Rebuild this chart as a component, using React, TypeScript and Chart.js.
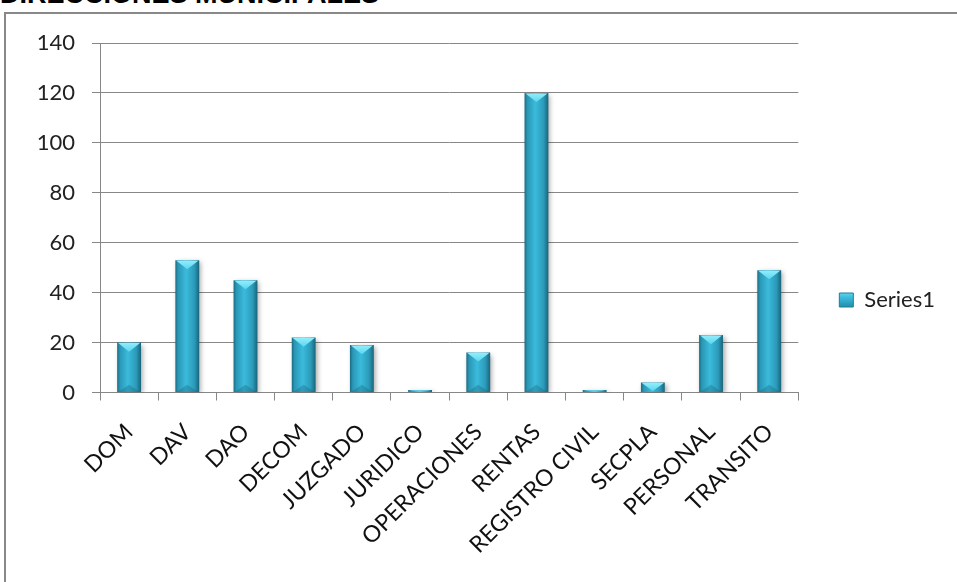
import React, { useEffect, useRef } from "react";
import { Chart, registerables } from "chart.js";

Chart.register(...registerables);

const title = "DIRECCIONES MUNICIPALES";
const seriesName = "Series1";
const categories = [
  "DOM",
  "DAV",
  "DAO",
  "DECOM",
  "JUZGADO",
  "JURIDICO",
  "OPERACIONES",
  "RENTAS",
  "REGISTRO CIVIL",
  "SECPLA",
  "PERSONAL",
  "TRANSITO",
];
const series1 = [20, 53, 45, 22, 19, 1, 16, 120, 1, 4, 23, 49];
const yMin = 0;
const yMax = 140;
const yStep = 20;

const FONT = "Lato, 'Open Sans', sans-serif";
const BAR_PCT = 0.41;

const barShadow = {
  id: "barShadow",
  beforeDatasetsDraw(chart: any) {
    const c = chart.ctx;
    c.save();
    c.shadowColor = "rgba(0,0,0,0.35)";
    c.shadowBlur = 5;
    c.shadowOffsetX = 2;
    c.shadowOffsetY = 2;
  },
  afterDatasetsDraw(chart: any) {
    const c = chart.ctx;
    c.restore();
    const meta = chart.getDatasetMeta(0);
    meta.data.forEach((el: any) => {
      const p = el.getProps(["x", "y", "base", "width"], true);
      const left = p.x - p.width / 2;
      const right = p.x + p.width / 2;
      const h = p.base - p.y;
      const bev = Math.min(p.width * 0.38, h * 0.9);
      if (h <= 0) return;
      c.save();
      const g = c.createLinearGradient(0, p.y, 0, p.y + bev);
      g.addColorStop(0, "#95eefb");
      g.addColorStop(1, "#5ad6f0");
      c.fillStyle = g;
      c.beginPath();
      c.moveTo(left + 1, p.y + 0.5);
      c.lineTo(right - 1, p.y + 0.5);
      c.lineTo(p.x, p.y + bev);
      c.closePath();
      c.fill();
      if (h > p.width) {
        const bb = p.width * 0.3;
        c.fillStyle = "rgba(20,90,110,0.3)";
        c.beginPath();
        c.moveTo(left + 1, p.base);
        c.lineTo(right - 1, p.base);
        c.lineTo(p.x, p.base - bb);
        c.closePath();
        c.fill();
      }
      c.restore();
    });
  },
};

export default function App() {
  const ref = useRef<HTMLCanvasElement | null>(null);

  useEffect(() => {
    if (!ref.current) return;
    const chart = new Chart(ref.current, {
      type: "bar",
      data: {
        labels: categories,
        datasets: [
          {
            label: seriesName,
            data: series1,
            barPercentage: BAR_PCT,
            categoryPercentage: 1,
            borderWidth: 0,
            backgroundColor: (ctx: any) => {
              const chart = ctx.chart;
              const xs = chart.scales && chart.scales.x;
              if (ctx.type !== "data" || !chart.chartArea || !xs) {
                return "#33aed0";
              }
              const cx = xs.getPixelForValue(ctx.dataIndex);
              const w = (xs.width / categories.length) * BAR_PCT;
              const g = chart.ctx.createLinearGradient(cx - w / 2, 0, cx + w / 2, 0);
              g.addColorStop(0, "#1c6c82");
              g.addColorStop(0.12, "#2a97b6");
              g.addColorStop(0.45, "#3bbbdc");
              g.addColorStop(0.8, "#2b9ab9");
              g.addColorStop(1, "#1a6479");
              return g;
            },
          } as any,
        ],
      },
      options: {
        animation: false,
        responsive: false,
        maintainAspectRatio: false,
        layout: { padding: { top: 43, bottom: 25, left: 0, right: 12 } },
        plugins: {
          title: { display: false },
          tooltip: { enabled: false },
          legend: {
            display: true,
            position: "right",
            labels: {
              boxWidth: 14,
              boxHeight: 14,
              color: "#222",
              font: { family: FONT, size: 22 },
              padding: 10,
              generateLabels: (chart: any) =>
                chart.data.datasets.map((ds: any, i: number) => {
                  const g = chart.ctx.createLinearGradient(0, 290, 0, 306);
                  g.addColorStop(0, "#7fe4f7");
                  g.addColorStop(0.45, "#3cbde0");
                  g.addColorStop(1, "#2591ae");
                  return {
                    text: ds.label,
                    fillStyle: g,
                    strokeStyle: "#1f7d96",
                    lineWidth: 1,
                    hidden: false,
                    datasetIndex: i,
                    fontColor: "#222",
                  };
                }),
            },
          },
        },
        scales: {
          x: {
            grid: {
              display: true,
              drawOnChartArea: false,
              drawTicks: true,
              offset: true,
              tickLength: 8,
              color: "#878787",
            },
            border: { display: true, color: "#878787", width: 1 },
            ticks: {
              autoSkip: false,
              maxRotation: 45,
              minRotation: 45,
              color: "#111",
              padding: 18,
              font: { family: FONT, size: 23 },
            },
            afterFit: (s: any) => {
              s.height = 164.5;
            },
          },
          y: {
            min: yMin,
            max: yMax,
            ticks: {
              stepSize: yStep,
              color: "#222",
              padding: 17,
              font: { family: FONT, size: 22 },
            },
            grid: { color: "#878787", tickLength: 8, lineWidth: 1 },
            border: { display: true, color: "#878787", width: 1 },
            afterFit: (s: any) => {
              s.width = 100;
            },
          },
          y2: {
            position: "right",
            display: true,
            grid: { display: false, drawTicks: false },
            border: { display: false },
            ticks: { display: false },
            afterFit: (s: any) => {
              s.width = 31;
            },
          },
        },
      },
      plugins: [barShadow],
    } as any);
    return () => chart.destroy();
  }, []);

  return (
    <div
      style={{
        position: "fixed",
        left: 0,
        top: 0,
        width: 957,
        height: 582,
        overflow: "hidden",
        background: "#fff",
      }}
    >
      <div
        style={{
          position: "absolute",
          left: 0,
          top: -21,
          fontFamily: "'Liberation Sans', Arial, sans-serif",
          fontWeight: "bold",
          fontSize: 27,
          lineHeight: "31px",
          whiteSpace: "nowrap",
          color: "#000",
        }}
      >
        {title}
      </div>
      <div
        style={{
          position: "absolute",
          left: 4,
          top: 12,
          width: 1000,
          height: 700,
          border: "2px solid #888",
          boxSizing: "border-box",
        }}
      />
      <canvas
        ref={ref}
        width={957}
        height={582}
        style={{ position: "absolute", left: 0, top: 0, width: 957, height: 582 }}
      />
    </div>
  );
}
